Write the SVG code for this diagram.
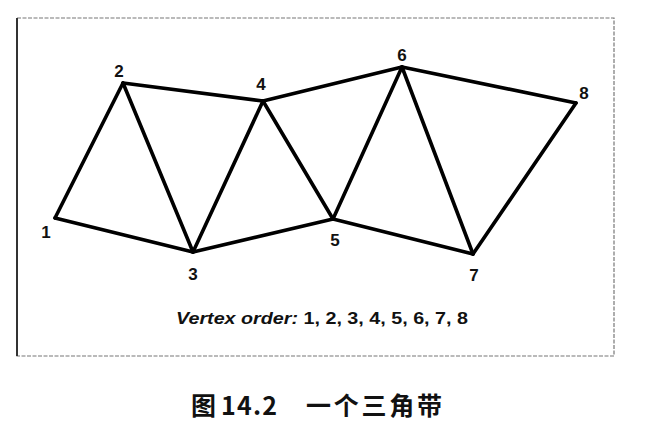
<svg xmlns="http://www.w3.org/2000/svg" width="645" height="424" viewBox="0 0 645 424">
<style>
.edge{stroke:#000;stroke-width:3.6;stroke-linecap:round;stroke-linejoin:round;fill:none}
.lbl{font-family:"Liberation Sans",Arial,sans-serif;font-weight:bold;font-size:17px;fill:#111;text-anchor:middle}
.frame{fill:none;stroke:#777;stroke-width:1.2;stroke-dasharray:4 1.5}
.cap{font-family:"Noto Sans CJK SC","Liberation Sans",sans-serif;font-size:25px;font-weight:bold;fill:#111}
</style>
<rect width="645" height="424" fill="#fff"/>
<rect class="frame" x="17" y="18" width="597" height="338"/>
<line x1="17" y1="18" x2="17" y2="356" stroke="#333" stroke-width="2"/>
<g id="connectors">
<line class="edge" x1="55" y1="218" x2="123" y2="83"/>
<line class="edge" x1="55" y1="218" x2="193" y2="252"/>
<line class="edge" x1="123" y1="83" x2="193" y2="252"/>
<line class="edge" x1="123" y1="83" x2="263" y2="101"/>
<line class="edge" x1="193" y1="252" x2="263" y2="101"/>
<line class="edge" x1="193" y1="252" x2="333" y2="219"/>
<line class="edge" x1="263" y1="101" x2="333" y2="219"/>
<line class="edge" x1="263" y1="101" x2="402" y2="67"/>
<line class="edge" x1="333" y1="219" x2="402" y2="67"/>
<line class="edge" x1="333" y1="219" x2="473" y2="254"/>
<line class="edge" x1="402" y1="67" x2="473" y2="254"/>
<line class="edge" x1="402" y1="67" x2="576" y2="103"/>
<line class="edge" x1="473" y1="254" x2="576" y2="103"/>
</g>
<g id="v1"><text class="lbl" x="46" y="238">1</text></g>
<g id="v2"><text class="lbl" x="119" y="77">2</text></g>
<g id="v3"><text class="lbl" x="193" y="280">3</text></g>
<g id="v4"><text class="lbl" x="261" y="90">4</text></g>
<g id="v5"><text class="lbl" x="335" y="246">5</text></g>
<g id="v6"><text class="lbl" x="402" y="61">6</text></g>
<g id="v7"><text class="lbl" x="474" y="281">7</text></g>
<g id="v8"><text class="lbl" x="584" y="99">8</text></g>
<text x="176" y="324" font-family="'Liberation Sans',Arial,sans-serif" font-size="16" font-weight="bold" fill="#111" textLength="292" lengthAdjust="spacingAndGlyphs"><tspan font-style="italic">Vertex order:</tspan> 1, 2, 3, 4, 5, 6, 7, 8</text>
<text class="cap" y="415"><tspan x="191">图</tspan><tspan x="221" textLength="56" lengthAdjust="spacing">14.2</tspan><tspan x="306" textLength="136" lengthAdjust="spacing">一个三角带</tspan></text>
</svg>
